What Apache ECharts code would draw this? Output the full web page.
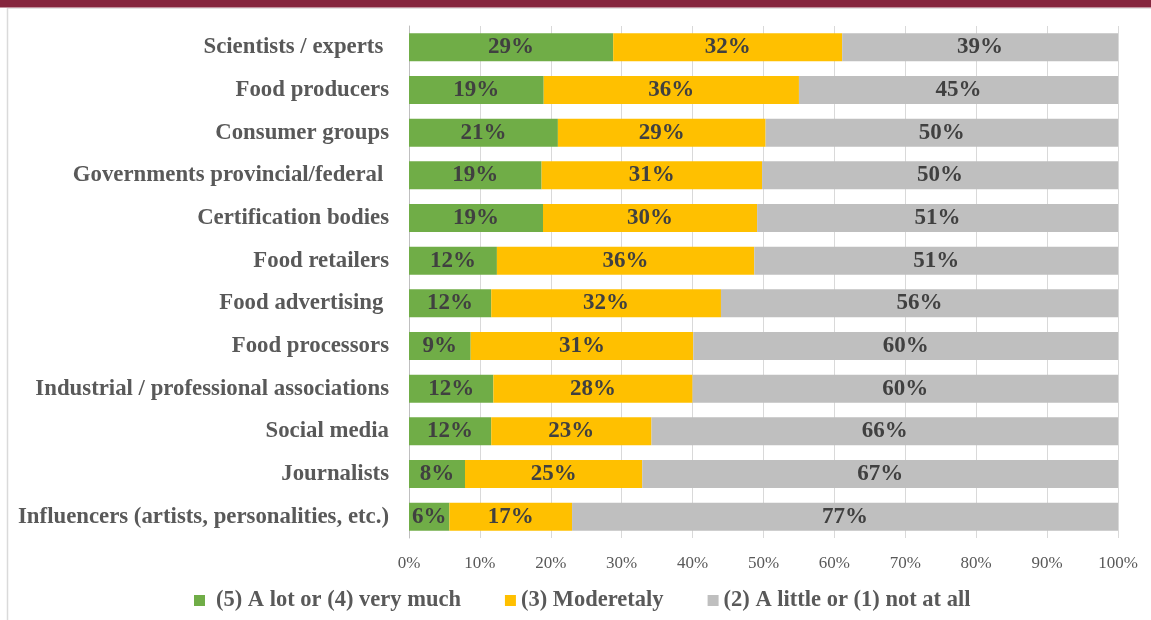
<!DOCTYPE html>
<html>
<head>
<meta charset="utf-8">
<style>
  html, body { margin: 0; padding: 0; background: #ffffff; }
  #chart { width: 1151px; height: 620px; }
</style>
<script src="https://cdn.jsdelivr.net/npm/echarts@6/dist/echarts.min.js"></script>
</head>
<body>
<div id="chart"></div>
<script>
// Sources of information and how much respondents trust them (share of respondents, %)
const categories = [
  'Scientists / experts ',
  'Food producers',
  'Consumer groups',
  'Governments provincial/federal ',
  'Certification bodies',
  'Food retailers',
  'Food advertising ',
  'Food processors',
  'Industrial / professional associations',
  'Social media',
  'Journalists',
  'Influencers (artists, personalities, etc.)'
];

const seriesNames = ['(5) A lot or (4) very much', '(3) Moderetaly', '(2) A little or (1) not at all'];

const aLotOrVeryMuch = [28.8, 19.0, 21.0, 18.7, 18.9, 12.4, 11.6, 8.7, 11.9, 11.6, 7.9, 5.7];
const moderately     = [32.3, 36.0, 29.3, 31.1, 30.2, 36.3, 32.4, 31.4, 28.1, 22.6, 25.0, 17.3];
const littleOrNot    = [38.9, 45.0, 49.7, 50.2, 50.9, 51.3, 56.0, 59.9, 60.0, 65.8, 67.1, 77.0];

const xTicks = [0, 10, 20, 30, 40, 50, 60, 70, 80, 90, 100];

const colors = ['#70AD47', '#FFC000', '#BFBFBF'];
const serif = '"Liberation Serif", "Times New Roman", Times, serif';

const chart = echarts.init(document.getElementById('chart'), null, { renderer: 'canvas' });

function segment(name, data, color) {
  return {
    name: name,
    type: 'bar',
    stack: 'total',
    barWidth: 28,
    data: data,
    itemStyle: { color: color },
    label: {
      show: true,
      position: 'inside',
      formatter: p => Math.round(p.value) + '%',
      fontFamily: serif,
      fontWeight: 'bold',
      fontSize: 23,
      color: '#404040'
    },
    emphasis: { disabled: true }
  };
}

chart.setOption({
  animation: false,
  backgroundColor: '#ffffff',
  graphic: [
    { type: 'rect', shape: { x: 0, y: 0, width: 1151, height: 7.5 }, style: { fill: '#85263E' }, silent: true },
    { type: 'line', shape: { x1: 7, y1: 8.5, x2: 1151, y2: 8.5 }, style: { stroke: '#E3E3E3', lineWidth: 1 }, silent: true },
    { type: 'line', shape: { x1: 7.5, y1: 8, x2: 7.5, y2: 620 }, style: { stroke: '#DADADA', lineWidth: 1.5 }, silent: true }
  ],
  grid: { left: 409, right: 33, top: 26, bottom: 82, containLabel: false },
  legend: {
    data: [
      { name: seriesNames[0], textStyle: { padding: [0, 0, 0, 6] } },
      { name: seriesNames[1] },
      { name: seriesNames[2] }
    ],
    left: 189,
    top: 584,
    itemWidth: 11,
    itemHeight: 11,
    itemGap: 44,
    icon: 'rect',
    textStyle: { fontFamily: serif, fontWeight: 'bold', fontSize: 22.5, color: '#595959' }
  },
  xAxis: {
    type: 'value',
    min: 0,
    max: 100,
    interval: 10,
    axisLine: { show: false },
    axisTick: { show: false },
    splitLine: { show: true, lineStyle: { color: '#D9D9D9', width: 1 } },
    axisLabel: {
      formatter: v => xTicks.includes(v) ? v + '%' : '',
      fontFamily: serif,
      fontSize: 17,
      color: '#595959',
      margin: 17
    }
  },
  yAxis: {
    type: 'category',
    data: categories,
    inverse: true,
    axisLine: { show: true, lineStyle: { color: '#BFBFBF', width: 1 } },
    axisTick: { show: false },
    axisLabel: {
      fontFamily: serif,
      fontWeight: 'bold',
      fontSize: 22.8,
      color: '#595959',
      margin: 20
    }
  },
  series: [
    segment(seriesNames[0], aLotOrVeryMuch, colors[0]),
    segment(seriesNames[1], moderately, colors[1]),
    segment(seriesNames[2], littleOrNot, colors[2])
  ]
});
</script>
</body>
</html>
